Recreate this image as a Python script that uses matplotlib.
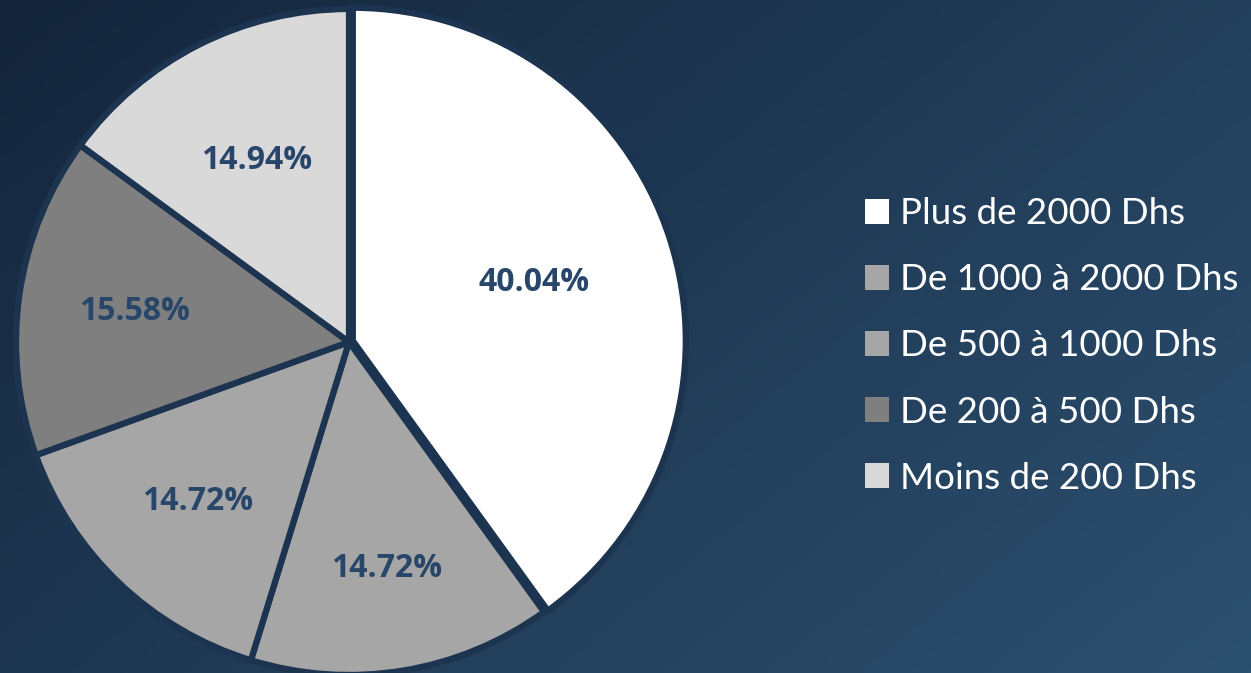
import numpy as np
import matplotlib
matplotlib.use("Agg")
from matplotlib import pyplot as plt

labels = ["Plus de 2000 Dhs", "De 1000 à 2000 Dhs", "De 500 à 1000 Dhs",
          "De 200 à 500 Dhs", "Moins de 200 Dhs"]
shares = [40.04, 14.72, 14.72, 15.58, 14.94]
colors = ["#ffffff", "#a6a6a6", "#a6a6a6", "#7f7f7f", "#d9d9d9"]
# how far out each percentage sits (fraction of radius)
label_dist = [0.585, 0.69, 0.66, 0.65, 0.61]

W, H = 1251, 673
fig = plt.figure(figsize=(W / 100, H / 100), dpi=100)

# background: dark navy gradient
bg = fig.add_axes([0, 0, 1, 1])
gx = np.linspace(0, 1, 300)
gy = np.linspace(0, 1, 160)
X, Y = np.meshgrid(gx, gy)
t = np.clip(0.6 * X + 0.4 * Y, 0, 1)
c0 = np.array([0x14, 0x25, 0x3b]) / 255
c1 = np.array([0x2c, 0x50, 0x70]) / 255
img = c0[None, None, :] * (1 - t[..., None]) + c1[None, None, :] * t[..., None]
bg.imshow(img, extent=[0, 1, 0, 1], aspect="auto", origin="upper")
bg.axis("off")

# pie
cx, cy, r = 349, 342, 333
ax = fig.add_axes([(cx - r) / W, (H - cy - r) / H, 2 * r / W, 2 * r / H])
wedges, texts, autotexts = ax.pie(
    shares, colors=colors, startangle=90, counterclock=False,
    autopct="%.2f%%", pctdistance=0.6, explode=[0.012, 0, 0, 0, 0],
    wedgeprops=dict(edgecolor="#1c3450", linewidth=4.5),
    textprops=dict(color="#27466a", fontsize=23, fontweight="bold",
                   family="Open Sans"))
for w, at, d in zip(wedges, autotexts, label_dist):
    ang = np.deg2rad((w.theta1 + w.theta2) / 2)
    at.set_position((d * np.cos(ang), d * np.sin(ang)))
ax.set_xlim(-1, 1)
ax.set_ylim(-1, 1)
ax.set_aspect("equal")
ax.axis("off")

# legend
leg = fig.legend(wedges, labels, loc="center left",
                 bbox_to_anchor=(865 / W, 1 - 346 / H), frameon=False,
                 borderpad=0, borderaxespad=0,
                 prop=dict(family="Lato", size=26.5), labelcolor="white",
                 handlelength=0.66, handleheight=0.66, handletextpad=0.3,
                 labelspacing=0.9)
for h in leg.legend_handles:
    h.set_edgecolor("none")
    h.set_linewidth(0)

fig.savefig("out.png", dpi=100)
